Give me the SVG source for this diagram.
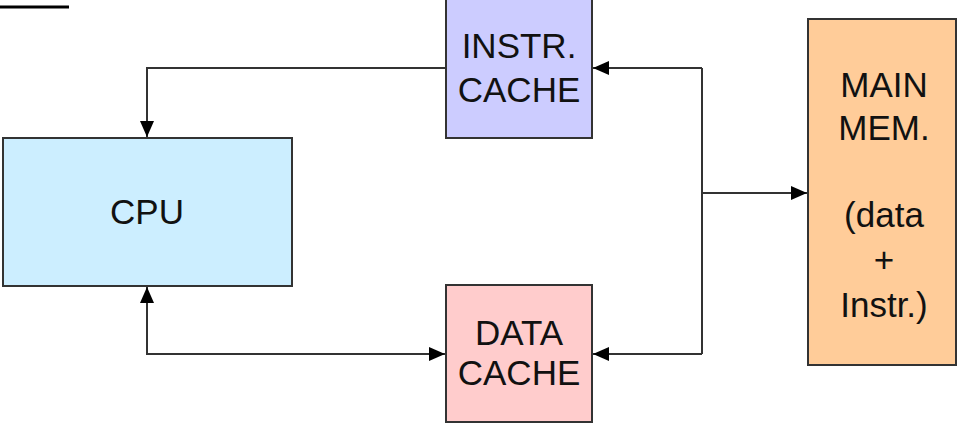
<svg xmlns="http://www.w3.org/2000/svg" width="958" height="423" viewBox="0 0 958 423">
<style>
.box{stroke:#333;stroke-width:2}
.lbl{font-family:"Liberation Sans",Arial,sans-serif;font-size:35px;fill:#111;text-anchor:middle}
.wire{fill:none;stroke:#333;stroke-width:2}
</style>
<defs>
<marker id="ah" markerUnits="userSpaceOnUse" markerWidth="16" markerHeight="16" viewBox="0 0 16 16" refX="16" refY="8" orient="auto-start-reverse">
<path d="M0,1 L16,8 L0,15 Z" fill="#000"/>
</marker>
</defs>
<rect width="958" height="423" fill="#fff"/>
<line x1="0" y1="7" x2="69" y2="7" stroke="#000" stroke-width="3"/>
<g id="connectors">
<path class="wire" d="M446,68 H147 V137" marker-end="url(#ah)"/>
<path class="wire" d="M147,287 V354 H445" marker-start="url(#ah)" marker-end="url(#ah)"/>
<path class="wire" d="M702,68 V354"/>
<path class="wire" d="M702,68 H593" marker-end="url(#ah)"/>
<path class="wire" d="M702,354 H593" marker-end="url(#ah)"/>
<path class="wire" d="M702,193 H807" marker-end="url(#ah)"/>
</g>
<g id="cpu">
<rect class="box" x="3" y="138" width="289" height="148" fill="#cceeff"/>
<text class="lbl" x="147" y="224">CPU</text>
</g>
<g id="instr-cache">
<rect class="box" x="446" y="-1" width="146" height="139" fill="#ccccff"/>
<text class="lbl" x="519" y="58">INSTR.</text>
<text class="lbl" x="519" y="102">CACHE</text>
</g>
<g id="data-cache">
<rect class="box" x="446" y="285" width="146" height="137" fill="#ffcccc"/>
<text class="lbl" x="519" y="345">DATA</text>
<text class="lbl" x="519" y="385">CACHE</text>
</g>
<g id="main-mem">
<rect class="box" x="808" y="19" width="148" height="346" fill="#ffcc99"/>
<text class="lbl" x="884" y="97">MAIN</text>
<text class="lbl" x="884" y="140">MEM.</text>
<text class="lbl" x="884" y="227">(data</text>
<text class="lbl" x="884" y="272">+</text>
<text class="lbl" x="884" y="317">Instr.)</text>
</g>
</svg>
